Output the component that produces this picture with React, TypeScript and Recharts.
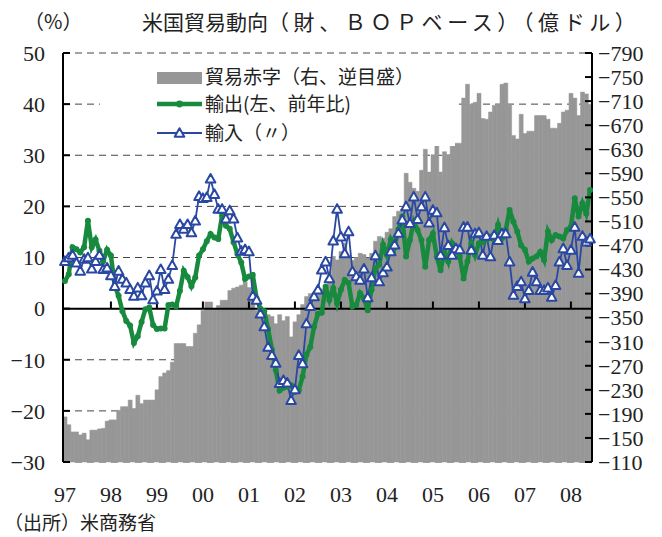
import React from "react";
import {
  ComposedChart,
  Bar,
  Line,
  XAxis,
  YAxis,
  CartesianGrid,
  ReferenceLine,
} from "recharts";

// monthly, Jan 1997 - Jun 2008
const yearLabels = ["97", "98", "99", "00", "01", "02", "03", "04", "05", "06", "07", "08"];
const monthNames = ["01", "02", "03", "04", "05", "06", "07", "08", "09", "10", "11", "12"];
const months = yearLabels.flatMap((y) => monthNames.map((m) => `${y}-${m}`)).slice(0, 138);
const yearStarts = yearLabels.map((y) => `${y}-01`);

// 輸出 前年比 (%)
const exportsYoY = [
  5.4, 6.7, 12, 11.6, 11, 12, 17.2, 12, 13.5, 11.3, 9.3, 11.5,
  10.4, 4.5, 2.5, -0.5, -2.4, -3.3, -6.7, -5.4, -2.6, -0.1, 0.2, -3.2,
  -4, -3.9, -3.9, 0.7, 0.8, 0.4, 3.5, 7.4, 6.2, 4.4, 6.1, 10.4,
  11.6, 13.2, 14.6, 13.9, 13.6, 18.2, 16.2, 15.6, 13, 10.7, 9, 5.8,
  6.3, 6.6, 2, 0, -0.5, -4, -8, -12, -16, -15.5, -15.3, -15,
  -16.3, -16, -13.3, -9, -7.5, -3.5, -1, -0.8, 4.3, 1.7, 4, 1,
  3.7, 5.6, 5, 0.4, 0.7, 3, 2, -0.3, 3.7, 7.9, 8.6, 12.5,
  10.5, 13.5, 12, 15.5, 18, 10.2, 13.4, 17, 15.4, 13.4, 8.2, 13.4,
  14.7, 10.2, 7.5, 11.1, 9.2, 12.8, 11.5, 10.2, 5.9, 9.2, 12.8, 10.5,
  12.8, 13, 13.4, 14.1, 13.4, 16.4, 13.7, 15.4, 19.3, 17, 15.1, 12.4,
  11.5, 9.2, 9.8, 10.2, 11.1, 9.5, 15.1, 13.4, 14.4, 14.1, 13.7, 15.4,
  16, 21.6, 18, 20.6, 18.6, 23.2,
];

// 輸入 前年比 (%)
const importsYoY = [
  9.3, 10, 10.5, 9, 7.4, 9.7, 10, 7.8, 9.3, 10.5, 7.7, 8,
  6.5, 4.4, 7.4, 5.8, 5.1, 3.8, 2.5, 4.1, 2.6, 5.1, 6.5, 1.8,
  3.5, 7.7, 3.8, 5.8, 8.5, 14.6, 16.5, 15.6, 16.5, 14.9, 17.2, 22,
  21.6, 21.8, 25.4, 22.4, 19.5, 19.5, 17.6, 19.2, 17.6, 13.9, 11.3, 11.6,
  11.2, 2.5, 1.7, -1, -3.5, -7.5, -9.1, -10.6, -14.6, -14, -14.5, -17.9,
  -15.8, -9.1, -10.7, -2.9, 0.5, 2.4, 3.7, 7.6, 9.2, 5.9, 13.3, 19.5,
  14.1, 10.8, 15.1, 7.3, 6.3, 5.6, 7.8, 2.2, 6.1, 10.4, 5.3, 7.1,
  8.2, 11.2, 12.5, 14.8, 17.4, 20, 16.7, 21.9, 17.5, 20, 21.9, 16.8,
  19.3, 18.8, 10.5, 15.9, 12.4, 10.5, 11.8, 11.6, 16, 16, 11.5, 14.7,
  14.9, 10.5, 14.2, 10.2, 14.4, 13.4, 14.7, 14.7, 9.2, 2.7, 4.4, 5.3,
  2, 3.6, 7.2, 5.3, 3.6, 3.6, 4.1, 2.3, 4.6, 9.2, 11.8, 8.5,
  11.5, 16, 7, 14.2, 13.1, 13.7,
];

// 貿易収支 (億ドル)
const tradeBalance = [
  -185, -172, -160, -160, -155, -158, -147, -163, -163, -165, -166, -178,
  -180, -180, -196, -202, -202, -213, -199, -221, -207, -213, -213, -213,
  -230, -252, -258, -262, -276, -307, -307, -307, -302, -302, -324, -338,
  -362, -376, -376, -365, -370, -379, -379, -395, -399, -401, -404, -409,
  -400, -393, -362, -358, -358, -355, -352, -340, -355, -345, -352, -318,
  -343, -355, -372, -385, -390, -392, -395, -398, -403, -420, -452, -446,
  -460, -474, -451, -445, -450, -457, -455, -449, -457, -477, -485, -482,
  -492, -498, -518, -527, -530, -590, -575, -565, -560, -595, -630, -592,
  -621, -637, -592, -626, -621, -637, -640, -640, -715, -738, -705, -708,
  -723, -681, -680, -692, -703, -705, -738, -740, -705, -653, -647, -688,
  -656, -660, -660, -686, -686, -686, -680, -665, -665, -673, -692, -695,
  -723, -715, -686, -725, -722, -705,
];

const leftTicks = [-30, -20, -10, 0, 10, 20, 30, 40, 50];
const rightTicks = [
  -790, -750, -710, -670, -630, -590, -550, -510, -470, -430, -390, -350, -310, -270, -230, -190, -150, -110,
];

const data = months.map((month, i) => ({
  month,
  exp: exportsYoY[i],
  imp: importsYoY[i],
  bal: tradeBalance[i],
}));

const GREEN = "#178a3e";
const BLUE = "#2a48a2";
const GRAY = "#979797";
const INK = "#222";
const NUM_FONT = "'Liberation Serif', 'DejaVu Serif', serif";
const JP_FONT = "'Noto Sans CJK JP', 'Noto Sans', sans-serif";

const minus = (v: number) => (v < 0 ? `\u2212${Math.abs(v)}` : `${v}`);

function renderTriangle(props: any) {
  const { cx, cy, index } = props;
  if (cx == null || cy == null) return <g key={`t-${index}`} />;
  const s = 4.8;
  return (
    <path
      key={`t-${index}`}
      d={`M${cx},${cy - s} L${cx + s},${cy + s * 0.8} L${cx - s},${cy + s * 0.8} Z`}
      fill="#fff"
      stroke={BLUE}
      strokeWidth={2}
      strokeLinejoin="round"
    />
  );
}

function LegendBox() {
  return (
    <svg
      width={355}
      height={86}
      style={{ position: "absolute", left: 100, top: 60 }}
    >
      <rect x={0} y={0} width={355} height={86} fill="#fff" />
      <rect x={57} y={12} width={45} height={12} fill={GRAY} />
      <text x={105} y={24} fontSize={19} fill={INK} fontFamily={JP_FONT}>
        貿易赤字（右、逆目盛）
      </text>
      <line x1={57} y1={44} x2={102} y2={44} stroke={GREEN} strokeWidth={4.5} />
      <circle cx={79.5} cy={44} r={3.4} fill={GREEN} />
      <text x={105} y={51} fontSize={19} fill={INK} fontFamily={JP_FONT}>
        輸出(左、前年比)
      </text>
      <line x1={57} y1={73} x2={102} y2={73} stroke={BLUE} strokeWidth={1.8} />
      {renderTriangle({ cx: 79.5, cy: 73, index: "lg" })}
      <text x={105} y={80} fontSize={19} fill={INK} fontFamily={JP_FONT}>
        輸入（〃）
      </text>
    </svg>
  );
}

export default function App() {
  return (
    <div
      style={{
        position: "absolute",
        left: 0,
        top: 0,
        width: 662,
        height: 537,
        background: "#fff",
        overflow: "hidden",
      }}
    >
      <ComposedChart
        width={662}
        height={537}
        data={data}
        margin={{ top: 53, right: 0, bottom: 0, left: 0 }}
        barCategoryGap={0}
        barGap={0}
      >
        <CartesianGrid
          yAxisId="left"
          vertical={false}
          stroke="#444"
          strokeDasharray="7 5"
        />
        <XAxis
          dataKey="month"
          ticks={yearStarts}
          interval={0}
          tickFormatter={(m: string) => m.slice(0, 2)}
          axisLine={false}
          tickLine={false}
          tickSize={0}
          tickMargin={24}
          height={75}
          tick={{ fontSize: 22, fill: INK, fontFamily: NUM_FONT }}
        />
        <YAxis
          yAxisId="left"
          orientation="left"
          width={63}
          domain={[-30, 50]}
          ticks={leftTicks}
          interval={0}
          tickFormatter={minus}
          axisLine={{ stroke: "#000", strokeWidth: 2 }}
          tickLine={{ stroke: "#000", strokeWidth: 2 }}
          tickSize={-7}
          tickMargin={25}
          tick={{ fontSize: 22, fill: INK, fontFamily: NUM_FONT }}
        />
        <YAxis
          yAxisId="right"
          orientation="right"
          width={70}
          domain={[-790, -110]}
          reversed
          ticks={rightTicks}
          interval={0}
          tickFormatter={minus}
          axisLine={{ stroke: "#000", strokeWidth: 2 }}
          tickLine={{ stroke: "#000", strokeWidth: 2 }}
          tickSize={-7}
          tickMargin={13}
          tick={{ fontSize: 22, fill: INK, fontFamily: NUM_FONT }}
        />
        <Bar
          yAxisId="right"
          dataKey="bal"
          fill={GRAY}
          stroke={GRAY}
          strokeWidth={0.5}
          isAnimationActive={false}
        />
        <ReferenceLine yAxisId="left" y={0} stroke="#000" strokeWidth={2} />
        {yearStarts.slice(1).map((m) => (
          <ReferenceLine
            key={m}
            yAxisId="left"
            segment={[
              { x: m, y: 0 },
              { x: m, y: 1.4 },
            ]}
            stroke="#000"
            strokeWidth={2}
          />
        ))}
        <Line
          yAxisId="left"
          dataKey="exp"
          stroke={GREEN}
          strokeWidth={4.5}
          dot={{ r: 3, fill: GREEN, stroke: GREEN, strokeWidth: 0 }}
          activeDot={false}
          isAnimationActive={false}
        />
        <Line
          yAxisId="left"
          dataKey="imp"
          stroke={BLUE}
          strokeWidth={1.8}
          dot={renderTriangle}
          activeDot={false}
          isAnimationActive={false}
        />
      </ComposedChart>

      <LegendBox />

      <div
        style={{
          position: "absolute",
          left: 24,
          top: 6,
          fontSize: 20,
          color: INK,
          fontFamily: JP_FONT,
          whiteSpace: "nowrap",
        }}
      >
        （%）
      </div>
      <div
        style={{
          position: "absolute",
          left: 142,
          top: 6,
          fontSize: 21,
          color: INK,
          fontFamily: JP_FONT,
          whiteSpace: "nowrap",
        }}
      >
        米国貿易動向
        <span style={{ letterSpacing: 4.6 }}>（財、ＢＯＰベース）（億ドル）</span>
      </div>
      <div
        style={{
          position: "absolute",
          left: 4,
          top: 508,
          fontSize: 19,
          color: INK,
          fontFamily: JP_FONT,
          whiteSpace: "nowrap",
        }}
      >
        （出所）米商務省
      </div>
    </div>
  );
}
